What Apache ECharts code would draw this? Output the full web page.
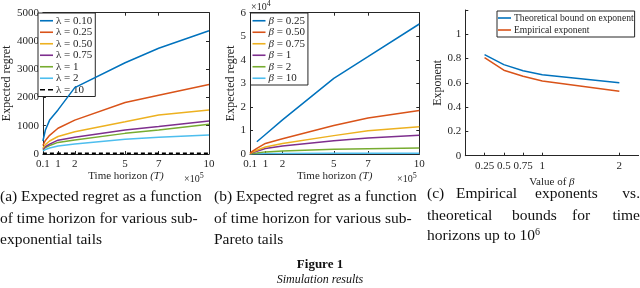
<!DOCTYPE html>
<html><head><meta charset="utf-8">
<script src="https://cdn.jsdelivr.net/npm/echarts@6/dist/echarts.min.js"></script>
<style>html,body{margin:0;padding:0;background:#fff}#c{width:640px;height:288px}</style>
</head><body><div id="c"></div>
<script>
// ---------- data ----------
const timeHorizon = [0.1, 0.25, 0.5, 1, 2, 5, 7, 10];          // x 10^5
const timeTicks = [0.1, 1, 2, 5, 7, 10];
const lambdaLabels = ['0.10', '0.25', '0.50', '0.75', '1', '2', '10'];
const regretLambda010 = [460, 850, 1200, 1560, 2350, 3230, 3740, 4360];
const regretLambda025 = [300, 480, 660, 910, 1200, 1820, 2080, 2460];
const regretLambda050 = [210, 330, 460, 620, 790, 1140, 1380, 1560];
const regretLambda075 = [170, 260, 350, 490, 590, 850, 970, 1170];
const regretLambda1   = [150, 230, 300, 410, 495, 730, 850, 1050];
const regretLambda2   = [110, 160, 210, 280, 350, 520, 590, 675];
const regretLambda10  = [15, 15, 15, 15, 15, 15, 15, 15];

const betaLabels = ['0.25', '0.50', '0.75', '1', '2', '10'];
const regretBeta025 = [null, null, 5200, 8300, 14500, 32100, 41300, 55200];
const regretBeta050 = [300, 1200, 2400, 4500, 6500, 12100, 15300, 18500];
const regretBeta075 = [200, 800, 1600, 3000, 4500, 7800, 9900, 11600];
const regretBeta1   = [150, 600, 1200, 2300, 3400, 5600, 6800, 8000];
const regretBeta2   = [50, 200, 400, 900, 1300, 2000, 2200, 2500];
const regretBeta10  = [20, 60, 110, 200, 250, 300, 330, 350];

const betaValues = [0.25, 0.5, 0.75, 1, 2];
const theoreticalExponent = [0.833, 0.75, 0.7, 0.667, 0.6];
const empiricalExponent = [0.808, 0.704, 0.655, 0.616, 0.53];

const yTicksC = [0, 0.2, 0.4, 0.6, 0.8, 1];

// ---------- style ----------
const C = ['#0072BD', '#D95319', '#EDB120', '#7E2F8E', '#77AC30', '#4DBEEE', '#000000'];
const AX = '#262626';
const FONT = 'Liberation Serif';
const tickFont = {color: AX, fontFamily: FONT, fontSize: 11};
const SOLID_ICON = 'path://M0,0H14V2H0Z';
const DASH_ICON = 'path://M0,0H5V2H0Z M8,0H13V2H8Z';

function pts(xs, ys) { return xs.map((x, i) => [x, ys[i]]); }

const seriesA = [regretLambda010, regretLambda025, regretLambda050, regretLambda075, regretLambda1, regretLambda2, regretLambda10];
const seriesB = [regretBeta025, regretBeta050, regretBeta075, regretBeta1, regretBeta2, regretBeta10];

const series = [];
seriesA.forEach((ys, i) => {
  series.push({
    type: 'line', name: 'λ = ' + lambdaLabels[i], xAxisIndex: 0, yAxisIndex: 0,
    data: pts(timeHorizon, ys), symbol: 'none', animation: false,
    lineStyle: {color: C[i], width: i === 6 ? 2 : 1.5, type: i === 6 ? [4, 3] : 'solid'},
    itemStyle: {color: C[i]}, z: 10 - i
  });
});
seriesB.forEach((ys, i) => {
  series.push({
    type: 'line', name: 'β = ' + betaLabels[i], xAxisIndex: 2, yAxisIndex: 2,
    data: pts(timeHorizon, ys), symbol: 'none', animation: false, connectNulls: false,
    lineStyle: {color: C[i], width: 1.5}, itemStyle: {color: C[i]}, z: 10 - i
  });
});
series.push({
  type: 'line', name: 'Theoretical bound on exponent', xAxisIndex: 4, yAxisIndex: 4,
  data: pts(betaValues, theoreticalExponent), symbol: 'none', animation: false,
  lineStyle: {color: C[0], width: 1.5}, itemStyle: {color: C[0]}
});
series.push({
  type: 'line', name: 'Empirical exponent', xAxisIndex: 4, yAxisIndex: 4,
  data: pts(betaValues, empiricalExponent), symbol: 'none', animation: false,
  lineStyle: {color: C[1], width: 1.5}, itemStyle: {color: C[1]}
});

function xMain(grid, min, max, ticks, name) {
  return {
    type: 'value', gridIndex: grid, min: min, max: max, position: 'bottom',
    name: name, nameLocation: 'middle', nameGap: 16,
    nameTextStyle: {color: AX, fontFamily: FONT, fontSize: 11,
      rich: {i: {fontStyle: 'italic', fontFamily: FONT, fontSize: 11, color: AX}}},
    axisLine: {show: true, lineStyle: {color: AX, width: 1}},
    axisTick: {show: true, inside: true, length: 3, customValues: ticks, lineStyle: {color: AX}},
    axisLabel: {show: true, customValues: ticks, margin: 5, ...tickFont,
      formatter: v => String(v)},
    splitLine: {show: false}
  };
}
function xTop(grid, min, max, ticks) {
  return {
    type: 'value', gridIndex: grid, min: min, max: max, position: 'top',
    axisLine: {show: true, onZero: false, lineStyle: {color: AX, width: 1}},
    axisTick: {show: true, inside: true, length: 3, customValues: ticks, lineStyle: {color: AX}},
    axisLabel: {show: false}, splitLine: {show: false}
  };
}
function yMain(grid, min, max, interval, name, gap, fmt, labelVals) {
  const o = {
    type: 'value', gridIndex: grid, min: min, max: max, interval: interval, position: 'left',
    name: name, nameLocation: 'middle', nameGap: gap,
    nameTextStyle: {color: AX, fontFamily: FONT, fontSize: 12},
    axisLine: {show: true, onZero: false, lineStyle: {color: AX, width: 1}},
    axisTick: {show: true, inside: true, length: 3, lineStyle: {color: AX}},
    axisLabel: {show: true, margin: 4, ...tickFont, formatter: fmt},
    splitLine: {show: false}
  };
  if (labelVals) o.axisLabel.customValues = labelVals;
  return o;
}
function yRight(grid, min, max, interval) {
  return {
    type: 'value', gridIndex: grid, min: min, max: max, interval: interval, position: 'right',
    axisLine: {show: true, onZero: false, lineStyle: {color: AX, width: 1}},
    axisTick: {show: true, inside: true, length: 3, lineStyle: {color: AX}},
    axisLabel: {show: false}, splitLine: {show: false}
  };
}

function legendBox(left, top, items, gap, iw, fs, rich, pad) {
  return {
    orient: 'vertical', left: left, top: top, data: items,
    backgroundColor: '#fff', borderColor: AX, borderWidth: 1, borderRadius: 0,
    padding: pad || [2, 3, 1, 2], itemGap: 0, itemWidth: iw, itemHeight: 1.6,
    symbolKeepAspect: false,
    textStyle: {color: AX, fontFamily: FONT, fontSize: fs, lineHeight: gap, padding: [0, 0, 0, -2], rich: rich},
    formatter: rich ? (n => n.replace('β', '{i|β}')) : null,
    selectedMode: false
  };
}

const richBeta = {i: {fontStyle: 'italic', fontFamily: FONT, fontSize: 11, color: AX, lineHeight: 11.5}};

const capFont = '15.5px "Liberation Serif"';
const capColor = '#111';
function cap(x, y, t, extra) {
  const o = {type: 'text', top: y, style: Object.assign({text: t, font: capFont, fill: capColor}, extra || {})};
  if (x < 0) o.right = 0; else o.left = x;
  return o;
}

const option = {
  backgroundColor: '#fff',
  animation: false,
  grid: [
    {left: 37.7, right: 431, top: 12.7, bottom: 134},
    {left: 250, right: 220.7, top: 12.7, bottom: 134},
    {left: 465.3, right: 1.4, top: 10, bottom: 132.3}
  ],
  xAxis: [
    xMain(0, 0.1, 10, timeTicks, 'Time horizon {i|(T)}'),
    xTop(0, 0.1, 10, timeTicks),
    xMain(1, 0.1, 10, timeTicks, 'Time horizon {i|(T)}'),
    xTop(1, 0.1, 10, timeTicks),
    Object.assign(xMain(2, 0, 2.25, betaValues, 'Value of {i|β}'), {nameGap: 16})
  ],
  yAxis: [
    yMain(0, 0, 5000, 1000, 'Expected regret', 21, v => String(v)),
    yRight(0, 0, 5000, 1000),
    yMain(1, 0, 60000, 10000, 'Expected regret', 10, v => String(v / 10000)),
    yRight(1, 0, 60000, 10000),
    yMain(2, 0, 1.2, 0.2, 'Exponent', 21, v => String(+v.toFixed(1)), yTicksC)
  ],
  legend: [
    legendBox(38, 13, seriesA.map((_, i) => ({name: 'λ = ' + lambdaLabels[i], icon: i === 6 ? DASH_ICON : SOLID_ICON})), 11.5, 13, 11, null),
    legendBox(250.5, 13, seriesB.map((_, i) => ({name: 'β = ' + betaLabels[i], icon: SOLID_ICON})), 11.5, 13, 11, richBeta),
    legendBox(497, 11, [{name: 'Theoretical bound on exponent', icon: SOLID_ICON}, {name: 'Empirical exponent', icon: SOLID_ICON}], 12, 13, 9.6, null, [1, 1, 1, 1])
  ],
  graphic: [
    {type: 'text', left: 184, top: 172, style: {text: '×10{s|5}', fill: AX, font: '10px "Liberation Serif"',
      rich: {s: {fontSize: 8, padding: [0, 0, 6, 0], fontFamily: FONT, fill: AX}}}},
    {type: 'text', left: 397, top: 172, style: {text: '×10{s|5}', fill: AX, font: '10px "Liberation Serif"',
      rich: {s: {fontSize: 8, padding: [0, 0, 6, 0], fontFamily: FONT, fill: AX}}}},
    {type: 'text', left: 251, top: 0, style: {text: '×10{s|4}', fill: AX, font: '10px "Liberation Serif"',
      rich: {s: {fontSize: 8, padding: [0, 0, 6, 0], fontFamily: FONT, fill: AX}}}},
    cap(0, 186, '(a) Expected regret as a function\nof time horizon for various sub-\nexponential tails', {lineHeight: 21.7}),
    cap(214, 186, '(b) Expected regret as a function\nof time horizon for various sub-\nPareto tails', {lineHeight: 21.7}),
    cap(427, 186, '(c)'),
    cap(456, 186, 'Empirical'),
    cap(535, 186, 'exponents'),
    cap(-1, 186, 'vs.'),
    cap(427, 207.7, 'theoretical'),
    cap(512, 207.7, 'bounds'),
    cap(572, 207.7, 'for'),
    cap(-1, 207.7, 'time'),
    cap(427, 227, 'horizons up to 10{s|6}', {rich: {s: {fontSize: 10, padding: [0, 0, 8, 0], fontFamily: FONT, fill: capColor}}}),
    {type: 'text', left: 'center', top: 258, style: {text: 'Figure 1', font: 'bold 13px "Liberation Serif"', fill: capColor}},
    {type: 'text', left: 'center', top: 274, style: {text: 'Simulation results', font: 'italic 12px "Liberation Serif"', fill: capColor}}
  ],
  series: series
};

const chart = echarts.init(document.getElementById('c'), null, {renderer: 'canvas'});
chart.setOption(option);
</script>
</body></html>
